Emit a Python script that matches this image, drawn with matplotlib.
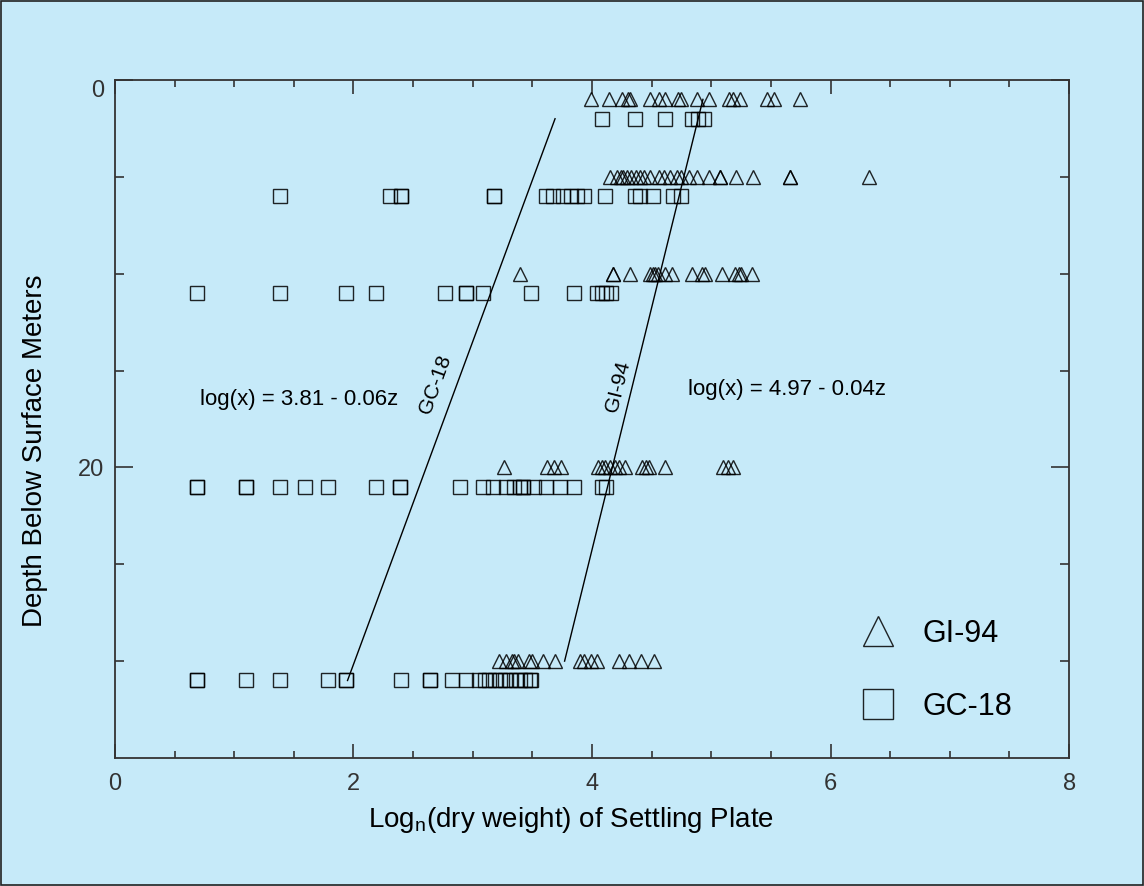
import matplotlib
matplotlib.use("Agg")
import matplotlib.pyplot as plt
from matplotlib.lines import Line2D
from matplotlib.patches import Rectangle
from matplotlib.ticker import MultipleLocator, FixedLocator
import numpy as np

plt.rcParams['font.family'] = ['Liberation Sans', 'DejaVu Sans']

# ---- data: ln(dry weight) per settling plate, grouped by depth (m) ----
gi94_depths = [1, 5, 10, 20, 30]
gi94_z1 = [3.99, 4.14, 4.25, 4.30, 4.32, 4.49, 4.56, 4.61, 4.72, 4.75, 4.88, 4.98,
           5.15, 5.18, 5.24, 5.47, 5.53, 5.74]
gi94_z5 = [4.15, 4.21, 4.24, 4.26, 4.29, 4.33, 4.37, 4.40, 4.44, 4.49, 4.56, 4.60,
           4.65, 4.71, 4.75, 4.81, 4.88, 4.98, 5.07, 5.07, 5.21, 5.35, 5.66, 5.66, 6.32]
gi94_z10 = [3.40, 4.18, 4.18, 4.32, 4.49, 4.51, 4.53, 4.55, 4.61, 4.67, 4.84, 4.92,
            4.95, 5.09, 5.20, 5.23, 5.25, 5.34]
gi94_z20 = [3.26, 3.62, 3.68, 3.74, 4.05, 4.08, 4.11, 4.15, 4.19, 4.23, 4.28, 4.42,
            4.45, 4.48, 4.61, 5.10, 5.14, 5.18]
gi94_z30 = [3.22, 3.28, 3.33, 3.35, 3.38, 3.47, 3.50, 3.59, 3.69, 3.90, 3.93, 3.99,
            4.04, 4.23, 4.31, 4.41, 4.52]

gc18_depths = [2, 6, 11, 21, 31]
gc18_z2 = [4.08, 4.36, 4.61, 4.84, 4.89, 4.94]
gc18_z6 = [1.38, 2.31, 2.40, 2.40, 3.18, 3.18, 3.61, 3.67, 3.76, 3.82, 3.87, 3.93,
           4.11, 4.36, 4.40, 4.51, 4.68, 4.75]
gc18_z11 = [0.69, 1.38, 1.94, 2.19, 2.77, 2.94, 2.94, 3.09, 3.49, 3.85, 4.04, 4.08,
            4.12, 4.16]
gc18_z21 = [0.69, 0.69, 1.10, 1.10, 1.38, 1.59, 1.79, 2.19, 2.39, 2.39, 2.89, 3.09,
            3.17, 3.28, 3.35, 3.40, 3.42, 3.42, 3.51, 3.61, 3.73, 3.85, 4.08, 4.12]
gc18_z31 = [0.69, 0.69, 1.10, 1.38, 1.79, 1.94, 1.94, 2.40, 2.64, 2.64, 2.83, 2.94,
            3.05, 3.10, 3.14, 3.19, 3.23, 3.27, 3.31, 3.36, 3.40, 3.44, 3.48, 3.49]

# regression fits: log(x) = a + b*z
gc18_fit = (3.81, -0.06)
gi94_fit = (4.97, -0.04)

series_labels = ["GI-94", "GC-18"]
x_label = "Log$_\\mathregular{n}$(dry weight) of Settling Plate"
y_label = "Depth Below Surface Meters"

# ---- figure ----
bg = '#c6eaf9'
fig = plt.figure(figsize=(11.44, 8.86), dpi=100, facecolor=bg)
ax = fig.add_axes([0.1005, 0.1445, 0.834, 0.7652])
ax.set_facecolor(bg)

gi94_rows = [gi94_z1, gi94_z5, gi94_z10, gi94_z20, gi94_z30]
gc18_rows = [gc18_z2, gc18_z6, gc18_z11, gc18_z21, gc18_z31]

mk = dict(linestyle='none', markerfacecolor='none', markeredgecolor='black',
          markeredgewidth=1.0, alpha=0.85)
for z, xs in zip(gi94_depths, gi94_rows):
    ax.plot(xs, [z] * len(xs), marker='^', markersize=10.5, **mk)
for z, xs in zip(gc18_depths, gc18_rows):
    ax.plot(xs, [z] * len(xs), marker='s', markersize=10, **mk)

# regression lines over the sampled depth range of each core
for (a, b), depths in ((gc18_fit, gc18_depths), (gi94_fit, gi94_depths)):
    z = np.array([min(depths), max(depths)], dtype=float)
    ax.plot(a + b * z, z, color='black', lw=1.0)

ax.text(0.71, 16.5, "log(x) = %.2f - %.2fz" % (gc18_fit[0], -gc18_fit[1]),
        fontsize=16, va='center', ha='left')
ax.text(4.805, 16.0, "log(x) = %.2f - %.2fz" % (gi94_fit[0], -gi94_fit[1]),
        fontsize=16, va='center', ha='left')
ax.text(2.69, 15.7, "GC-18", fontsize=15, rotation=70,
        ha='center', va='center')
ax.text(4.22, 15.8, "GI-94", fontsize=15, rotation=76,
        ha='center', va='center')

ax.set_xlim(0, 8)
ax.set_ylim(35, 0)
ax.xaxis.set_major_locator(MultipleLocator(2))
ax.xaxis.set_minor_locator(MultipleLocator(0.5))
ax.yaxis.set_major_locator(FixedLocator([0, 20]))
ax.yaxis.set_minor_locator(FixedLocator([5, 10, 15, 25, 30]))

ax.tick_params(axis='both', which='both', direction='in', top=True, right=True,
               color='#333333', width=1.2, labelcolor='#333333')
ax.tick_params(axis='x', which='major', length=10, pad=11, labelsize=17)
ax.tick_params(axis='x', which='minor', length=5)
ax.tick_params(axis='y', which='major', length=13, pad=8, labelsize=17)
ax.tick_params(axis='y', which='minor', length=6.5)
fig.canvas.draw()
ax.get_yticklabels()[0].set_va('top')
for s in ax.spines.values():
    s.set_color('#333333')
    s.set_linewidth(1.3)

ax.set_xlabel(x_label, fontsize=20)
ax.set_ylabel(y_label, fontsize=20)
ax.xaxis.set_label_coords(0.478, -0.091)
ax.xaxis.label.set_va('center')
ax.yaxis.set_label_coords(-0.084, 0.453)
ax.yaxis.label.set_va('center')

handles = [Line2D([], [], marker='^', markersize=21, **mk),
           Line2D([], [], marker='s', markersize=21, **mk)]
ax.legend(handles, series_labels, loc='upper left', bbox_to_anchor=(0.784, 0.205),
          frameon=False, fontsize=22, handlelength=1.0, handletextpad=0.94,
          labelspacing=1.4, borderpad=0, borderaxespad=0)

fig.patches.append(Rectangle((0.0005, 0.0006), 0.999, 0.9988, transform=fig.transFigure,
                             fill=False, edgecolor='#222222', lw=1.2))

fig.savefig("out.png", dpi=100, facecolor=bg)
